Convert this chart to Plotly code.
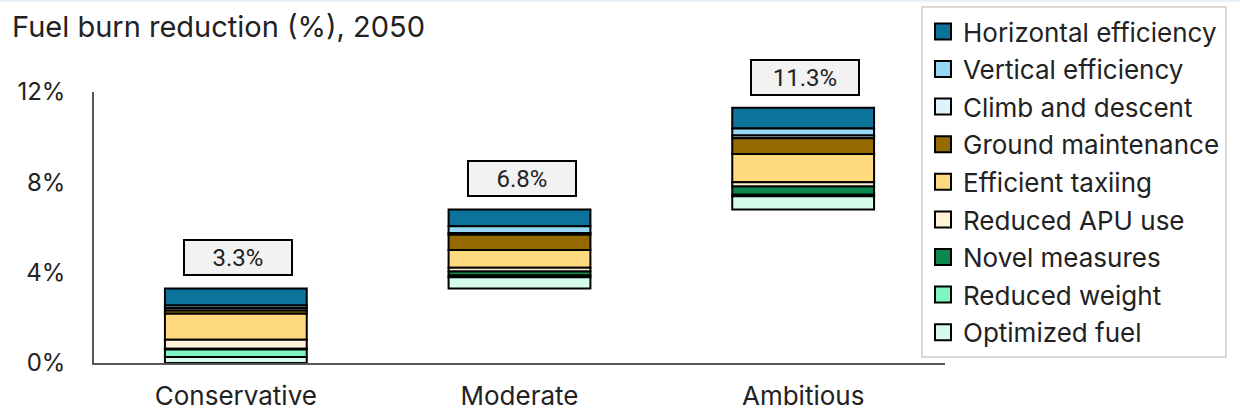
import plotly.graph_objects as go

# Scenarios on the x axis
scenarios = ["Conservative", "Moderate", "Ambitious"]

# Additional fuel burn reduction contributed by each measure in each scenario (percentage points)
optimized_fuel = [0.27, 0.50, 0.58]
reduced_weight = [0.33, 0.08, 0.07]
novel_measures = [0.03, 0.17, 0.37]
reduced_apu_use = [0.40, 0.17, 0.18]
efficient_taxiing = [1.15, 0.78, 1.26]
ground_maintenance = [0.15, 0.68, 0.69]
climb_and_descent = [0.10, 0.08, 0.12]
vertical_efficiency = [0.12, 0.30, 0.31]
horizontal_efficiency = [0.75, 0.74, 0.92]

# Y axis ticks
y_tick_values = [0, 4, 8, 12]
y_tick_labels = ["0%", "4%", "8%", "12%"]

# Stacking order, bottom segment first
series = [
    ("Optimized fuel", optimized_fuel, "#d6fbea"),
    ("Reduced weight", reduced_weight, "#80f5c4"),
    ("Novel measures", novel_measures, "#0c884c"),
    ("Reduced APU use", reduced_apu_use, "#fff2d5"),
    ("Efficient taxiing", efficient_taxiing, "#ffd97e"),
    ("Ground maintenance", ground_maintenance, "#956b00"),
    ("Climb and descent", climb_and_descent, "#def3fc"),
    ("Vertical efficiency", vertical_efficiency, "#95d7f5"),
    ("Horizontal efficiency", horizontal_efficiency, "#0d739a"),
]

# Each scenario builds on the previous one: its bar starts where the previous ends
increments = [sum(vals[i] for _, vals, _ in series) for i in range(len(scenarios))]
starts = [0.0]
for inc in increments[:-1]:
    starts.append(starts[-1] + inc)
tops = [s + inc for s, inc in zip(starts, increments)]

# Base of every segment
bases = []
running = list(starts)
for _, vals, _ in series:
    bases.append(list(running))
    running = [r + v for r, v in zip(running, vals)]

fig = go.Figure()

# Add traces from the top segment down so the legend lists them top-first
for (name, vals, color), base in reversed(list(zip(series, bases))):
    fig.add_trace(go.Bar(
        x=scenarios, y=vals, base=base, name=name, legendgroup=name,
        showlegend=False, width=0.5,
        marker=dict(color=color, line=dict(color="black", width=2)),
        hovertemplate=name + ": %{y:.2f} pp<extra></extra>",
    ))
    fig.add_trace(go.Scatter(
        x=[None], y=[None], mode="markers", name=name, legendgroup=name,
        showlegend=True,
        marker=dict(symbol="square", size=16, color=color,
                    line=dict(color="black", width=2)),
    ))

# Total labels in boxes above each bar
for sc, top in zip(scenarios, tops):
    fig.add_annotation(
        x=sc, y=top, text=f"{top:.1f}%", showarrow=False,
        yanchor="bottom", yshift=12, xshift=2,
        font=dict(family="Roboto", size=24, color="#222222"),
        bgcolor="#f2f2f2", bordercolor="black", borderwidth=2, borderpad=1,
        width=104, height=31,
    )

# Thin page rule along the top edge
fig.add_shape(
    type="line", xref="paper", yref="paper",
    x0=-94 / 851, x1=(1240 - 94) / 851,
    y0=1 + 91.5 / 271, y1=1 + 91.5 / 271,
    line=dict(color="#e4edf6", width=2),
)

fig.update_layout(
    width=1240, height=415,
    margin=dict(l=94, r=295, t=92, b=52, autoexpand=False),
    paper_bgcolor="white", plot_bgcolor="white",
    barmode="overlay",
    title=dict(
        text="Fuel burn reduction (%), 2050",
        font=dict(family="Inter", size=29, color="#222222"),
        xref="container", x=12 / 1240, xanchor="left",
        yref="container", y=1 - 27 / 415, yanchor="middle",
    ),
    xaxis=dict(
        range=[-0.5, 2.5], showline=True, linecolor="#595959", linewidth=2,
        ticks="", showgrid=False, ticklabelstandoff=9,
        tickfont=dict(family="Inter", size=26, color="#222222"),
    ),
    yaxis=dict(
        range=[0, 12], tickvals=y_tick_values, ticktext=y_tick_labels,
        showline=True, linecolor="#595959", linewidth=1.5,
        ticks="", showgrid=False, zeroline=False, ticklabelstandoff=22,
        tickfont=dict(family="Inter", size=24, color="#222222"),
    ),
    legend=dict(
        xref="container", x=921 / 1240, xanchor="left",
        yref="container", y=1 - 6 / 415, yanchor="top",
        bgcolor="white", bordercolor="#d9d9d9", borderwidth=2,
        font=dict(family="Inter", size=26, color="#222222"),
        traceorder="grouped", tracegroupgap=0.8, maxheight=405,
    ),
    showlegend=True,
)

fig.write_html("out.html")
